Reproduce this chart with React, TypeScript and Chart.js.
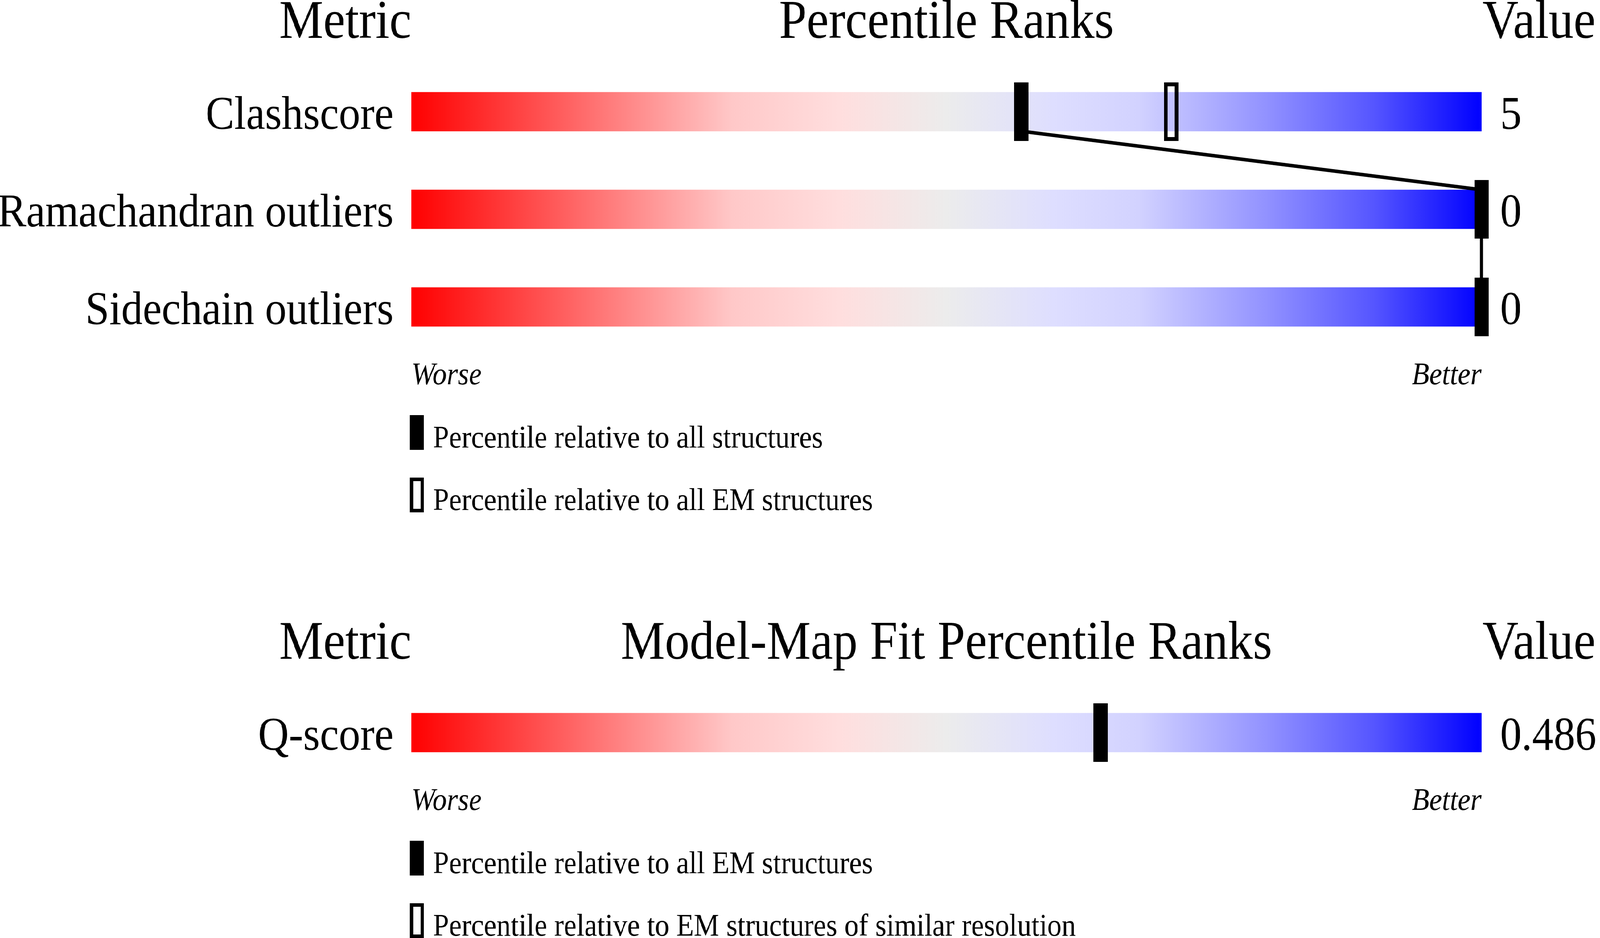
import React, { useEffect, useRef } from 'react';
import { Chart, registerables, Plugin, ChartConfiguration } from 'chart.js';

Chart.register(...registerables);

const FONT = '"Liberation Serif", "Times New Roman", Times, serif';
const PAGE_W = 4485;
const PAGE_H = 2402;

// Geometry validation panel
const qualityMetrics = ['Clashscore', 'Ramachandran outliers', 'Sidechain outliers'];
const qualityValues = ['5', '0', '0'];
const qualityAllPct = [57, 100, 100]; // percentile vs all structures
const qualityEmPct = [71, 100, 100]; // percentile vs all EM structures
const qualityLegend = ['Percentile relative to all structures', 'Percentile relative to all EM structures'];

// Model-map fit panel
const fitMetrics = ['Q-score'];
const fitValues = ['0.486'];
const fitAllEmPct = [64.4];
const fitSimilarResPct = [64.4];
const fitLegend = [
  'Percentile relative to all EM structures',
  'Percentile relative to EM structures of similar resolution',
];

const headerLeft = 'Metric';
const headerRight = 'Value';
const xTickLabels = ['Worse', 'Better'];

// worse -> better colour ramp
const gradientStops: [number, string][] = [
  [0, 'rgb(255,0,0)'],
  [0.3, 'rgb(255,200,200)'],
  [0.4, 'rgb(255,222,222)'],
  [0.5, 'rgb(236,236,236)'],
  [0.6, 'rgb(222,222,255)'],
  [0.68, 'rgb(210,210,255)'],
  [0.8, 'rgb(145,145,255)'],
  [0.9, 'rgb(85,85,255)'],
  [1, 'rgb(0,0,255)'],
];

function makeMarker(w: number, h: number, filled: boolean) {
  const c = document.createElement('canvas');
  c.width = w;
  c.height = h;
  const g = c.getContext('2d')!;
  if (filled) {
    g.fillStyle = '#000';
    g.fillRect(0, 0, w, h);
  } else {
    g.strokeStyle = '#000';
    g.lineWidth = 10;
    g.strokeRect(5, 5, w - 10, h - 10);
  }
  return c;
}

const panelPlugin: Plugin = {
  id: 'panel',
  afterDatasetDraw(chart, args) {
    // connector between the "all" markers, drawn over the strips but under the markers
    if (chart.data.datasets[args.index].label !== 'strip') return;
    const allIdx = chart.data.datasets.findIndex(d => d.label === 'all');
    const pts = chart.getDatasetMeta(allIdx).data;
    if (pts.length < 2) return;
    const half = 50;
    const ctx = chart.ctx;
    ctx.save();
    ctx.strokeStyle = '#000';
    ctx.lineWidth = 9;
    ctx.beginPath();
    for (let i = 0; i < pts.length - 1; i++) {
      ctx.moveTo(pts[i].x, pts[i].y + half);
      ctx.lineTo(pts[i + 1].x, pts[i + 1].y - half);
    }
    ctx.stroke();
    ctx.restore();
  },
  afterDraw(chart, _args, opts: any) {
    const { ctx, chartArea } = chart;
    ctx.save();
    ctx.fillStyle = '#000';
    ctx.textBaseline = 'alphabetic';
    // headers
    const hy = chartArea.top - 64;
    ctx.font = `139px ${FONT}`;
    ctx.textAlign = 'right';
    ctx.fillText(headerLeft, chartArea.left, hy);
    ctx.textAlign = 'center';
    ctx.fillText(opts.title, (chartArea.left + chartArea.right) / 2, hy);
    ctx.textAlign = 'left';
    ctx.fillText(headerRight, chartArea.right + 3, hy);
    // legend
    ctx.font = `80px ${FONT}`;
    (opts.legend as string[]).forEach((text, i) => {
      const cy = chartArea.bottom + 196 + i * 160;
      const mx = chartArea.left - 4;
      if (i === 0) {
        ctx.fillRect(mx, cy - 44, 39, 89);
      } else {
        ctx.lineWidth = 9;
        ctx.strokeStyle = '#000';
        ctx.strokeRect(mx + 4.5, cy - 44 + 4.5, 30, 80);
      }
      ctx.fillText(text, chartArea.left + 61, cy + 39);
    });
    ctx.restore();
  },
};

interface PanelProps {
  top: number;
  height: number;
  padTop: number;
  padBottom: number;
  title: string;
  metrics: string[];
  values: string[];
  allPct: number[];
  subsetPct: number[];
  legend: string[];
}

const Panel: React.FC<PanelProps> = ({ top, height, padTop, padBottom, title, metrics, values, allPct, subsetPct, legend }) => {
  const canvasRef = useRef<HTMLCanvasElement>(null);

  useEffect(() => {
    if (!canvasRef.current) return;
    const solid = makeMarker(40, 150, true);
    const open = makeMarker(40, 150, false);

    const stripColor = (c: any) => {
      const area = c.chart.chartArea;
      if (!area) return 'rgb(236,236,236)';
      const g = c.chart.ctx.createLinearGradient(area.left, 0, area.right, 0);
      gradientStops.forEach(([o, col]) => g.addColorStop(o, col));
      return g;
    };

    const config: ChartConfiguration = {
      type: 'bar',
      data: {
        labels: metrics,
        datasets: [
          {
            type: 'scatter',
            label: 'all',
            data: metrics.map((m, i) => ({ x: allPct[i], y: m })) as any,
            pointStyle: solid,
            pointRadius: 10,
            clip: false,
            order: 0,
          } as any,
          {
            type: 'scatter',
            label: 'subset',
            data: metrics.map((m, i) => ({ x: subsetPct[i], y: m })) as any,
            pointStyle: open,
            pointRadius: 10,
            clip: false,
            order: 1,
          } as any,
          {
            type: 'bar',
            label: 'strip',
            data: metrics.map(() => [0, 100]) as any,
            backgroundColor: stripColor,
            barThickness: 100,
            order: 2,
          },
        ],
      },
      options: {
        responsive: false,
        animation: false,
        devicePixelRatio: 1,
        indexAxis: 'y',
        events: [],
        layout: { padding: { top: padTop, bottom: padBottom, left: 0, right: 0 } },
        scales: {
          x: {
            type: 'linear',
            min: 0,
            max: 100,
            position: 'bottom',
            grid: { display: false, drawTicks: false },
            border: { display: false },
            afterBuildTicks: (s: any) => {
              s.ticks = [{ value: 0 }, { value: 100 }];
            },
            afterFit: (s: any) => {
              s.height = 100;
            },
            ticks: {
              align: 'inner',
              padding: 4,
              color: '#000',
              font: { family: FONT, size: 80, style: 'italic' },
              callback: (v: any) => (Number(v) === 0 ? xTickLabels[0] : xTickLabels[1]),
            },
          },
          y: {
            type: 'category',
            position: 'left',
            offset: true,
            grid: { display: false, drawTicks: false },
            border: { display: false },
            afterFit: (s: any) => {
              s.width = 1153;
            },
            ticks: { padding: 50, labelOffset: 12, color: '#000', font: { family: FONT, size: 120 } },
          },
          y2: {
            type: 'category',
            position: 'right',
            labels: values,
            offset: true,
            grid: { display: false, drawTicks: false },
            border: { display: false },
            afterFit: (s: any) => {
              s.width = 332;
            },
            ticks: { padding: 52, labelOffset: 12, color: '#000', font: { family: FONT, size: 120 } },
          },
        },
        plugins: {
          legend: { display: false },
          tooltip: { enabled: false },
          panel: { title, legend },
        } as any,
      },
      plugins: [panelPlugin],
    };

    const chart = new Chart(canvasRef.current, config);
    return () => chart.destroy();
  }, [padTop, padBottom, title, metrics, values, allPct, subsetPct, legend]);

  return (
    <canvas
      ref={canvasRef}
      width={PAGE_W}
      height={height}
      style={{ position: 'absolute', left: 0, top, width: PAGE_W, height }}
    />
  );
};

export default function App() {
  // the layout is worked out in screenshot pixels; stretch it over whatever CSS viewport we get
  const kx = window.innerWidth / PAGE_W;
  const ky = window.innerHeight / PAGE_H;
  return (
    <div style={{ position: 'fixed', left: 0, top: 0, right: 0, bottom: 0, overflow: 'hidden', background: '#fff' }}>
      <div
        style={{
          position: 'absolute',
          left: 0,
          top: 0,
          width: PAGE_W,
          height: PAGE_H,
          transform: `scale(${kx}, ${ky})`,
          transformOrigin: '0 0',
        }}
      >
        <Panel
          top={0}
          height={1400}
          padTop={161}
          padBottom={389}
          title="Percentile Ranks"
          metrics={qualityMetrics}
          values={qualityValues}
          allPct={qualityAllPct}
          subsetPct={qualityEmPct}
          legend={qualityLegend}
        />
        <Panel
          top={1560}
          height={842}
          padTop={191}
          padBottom={301}
          title="Model-Map Fit Percentile Ranks"
          metrics={fitMetrics}
          values={fitValues}
          allPct={fitAllEmPct}
          subsetPct={fitSimilarResPct}
          legend={fitLegend}
        />
      </div>
    </div>
  );
}
